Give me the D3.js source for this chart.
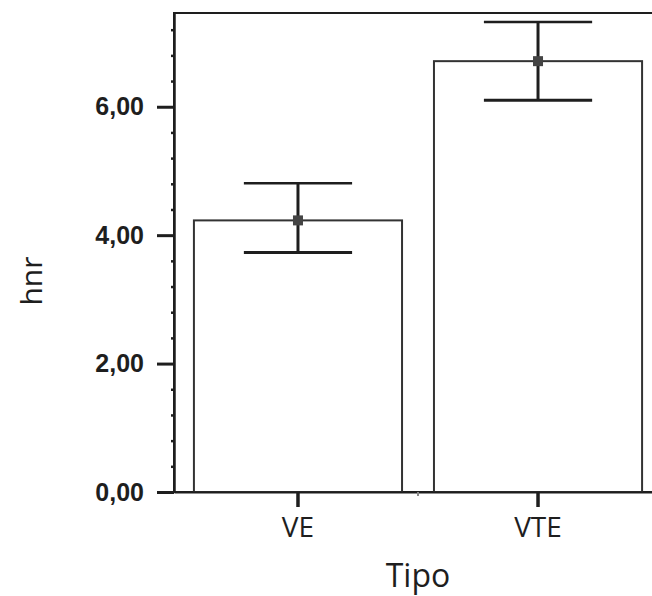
<!DOCTYPE html>
<html>
<head>
<meta charset="utf-8">
<script src="https://cdn.jsdelivr.net/npm/d3@7"></script>
<style>
  body { margin: 0; background: #fff; }
</style>
</head>
<body>
<div id="chart"></div>
<script>
// chart values
var categories = ["VE", "VTE"];
var means = [4.23, 6.71];
var upper = [4.81, 7.32];
var lower = [3.73, 6.10];
var yTicks = [0, 2, 4, 6];
var yMax = 7.46;

var data = categories.map(function(c, i) {
  return {cat: c, mean: means[i], hi: upper[i], lo: lower[i]};
});

var svg = d3.select("#chart")
  .append("svg")
  .attr("width", 652)
  .attr("height", 596);

var x = d3.scaleBand()
  .domain(categories)
  .range([174, 662])
  .paddingInner(0.133)
  .paddingOuter(0.083);

var y = d3.scaleLinear()
  .domain([0, yMax])
  .range([492, 13]);

var ink = "#1e1e1e";

// frame
svg.append("rect")
  .attr("x", 174).attr("y", 13)
  .attr("width", 488).attr("height", 479)
  .attr("fill", "none")
  .attr("stroke", ink)
  .attr("stroke-width", 2);

// bars
svg.selectAll(".bar")
  .data(data)
  .enter()
  .append("rect")
    .attr("class", "bar")
    .attr("x", function(d) { return x(d.cat); })
    .attr("y", function(d) { return y(d.mean); })
    .attr("width", x.bandwidth())
    .attr("height", function(d) { return y(0) - y(d.mean); })
    .attr("fill", "#fff")
    .attr("stroke", "#333")
    .attr("stroke-width", 2);

// minor ticks on y
var minor = d3.range(0.4, yMax, 0.4).filter(function(v) {
  return Math.abs(v / 2 - Math.round(v / 2)) > 0.01;
});
svg.append("g")
  .attr("transform", "translate(174,0)")
  .call(d3.axisLeft(y).tickValues(minor).tickSize(3).tickSizeOuter(0).tickFormat(""))
  .call(function(g) { g.select(".domain").remove(); })
  .selectAll("line").attr("stroke", ink).attr("stroke-width", 2.5);

// y axis
var yAxis = svg.append("g")
  .attr("transform", "translate(174,0)")
  .call(d3.axisLeft(y)
    .tickValues(yTicks)
    .tickSize(17)
    .tickSizeOuter(0)
    .tickPadding(13)
    .tickFormat(function(d) { return d3.format(".2f")(d).replace(".", ","); }));
yAxis.select(".domain").attr("stroke", ink).attr("stroke-width", 2.5);
yAxis.selectAll("line").attr("stroke", ink).attr("stroke-width", 3);
yAxis.selectAll("text")
  .style("font-family", "Liberation Sans, Arial, sans-serif")
  .style("font-weight", "bold")
  .style("font-size", "25px")
  .attr("fill", ink);

// x axis
var xAxis = svg.append("g")
  .attr("transform", "translate(0,492)")
  .call(d3.axisBottom(x).tickSize(15).tickSizeOuter(0).tickPadding(10));
xAxis.select(".domain").attr("stroke", ink).attr("stroke-width", 2);
xAxis.selectAll("line").attr("stroke", ink).attr("stroke-width", 3.5);
xAxis.selectAll("text")
  .style("font-family", "Open Sans, sans-serif")
  .style("font-size", "28px")
  .attr("fill", ink);

// small tick between categories
svg.append("line")
  .attr("x1", (x("VE") + x.bandwidth() + x("VTE")) / 2)
  .attr("x2", (x("VE") + x.bandwidth() + x("VTE")) / 2)
  .attr("y1", 492).attr("y2", 496)
  .attr("stroke", "#888").attr("stroke-width", 2);

// error bars
var capHalf = x.bandwidth() * 0.26;
var cx = function(d) { return x(d.cat) + x.bandwidth() / 2; };

var eb = svg.selectAll(".err")
  .data(data)
  .enter()
  .append("g")
    .attr("class", "err");

eb.append("line")
  .attr("x1", cx).attr("x2", cx)
  .attr("y1", function(d) { return y(d.hi); })
  .attr("y2", function(d) { return y(d.lo); })
  .attr("stroke", ink).attr("stroke-width", 3);

eb.append("line")
  .attr("x1", function(d) { return cx(d) - capHalf; })
  .attr("x2", function(d) { return cx(d) + capHalf; })
  .attr("y1", function(d) { return y(d.hi); })
  .attr("y2", function(d) { return y(d.hi); })
  .attr("stroke", ink).attr("stroke-width", 2.5);

eb.append("line")
  .attr("x1", function(d) { return cx(d) - capHalf; })
  .attr("x2", function(d) { return cx(d) + capHalf; })
  .attr("y1", function(d) { return y(d.lo); })
  .attr("y2", function(d) { return y(d.lo); })
  .attr("stroke", ink).attr("stroke-width", 3);

// mean markers
eb.append("rect")
  .attr("x", function(d) { return cx(d) - 5; })
  .attr("y", function(d) { return y(d.mean) - 5; })
  .attr("width", 10).attr("height", 10)
  .attr("fill", "#444");

// axis titles
svg.append("text")
  .attr("x", 418)
  .attr("y", 587)
  .attr("text-anchor", "middle")
  .style("font-family", "Open Sans, sans-serif")
  .style("font-size", "32px")
  .attr("fill", ink)
  .text("Tipo");

svg.append("text")
  .attr("transform", "translate(42,281) rotate(-90)")
  .attr("text-anchor", "middle")
  .style("font-family", "Open Sans, sans-serif")
  .style("font-size", "30px")
  .attr("fill", ink)
  .text("hnr");
</script>
</body>
</html>
